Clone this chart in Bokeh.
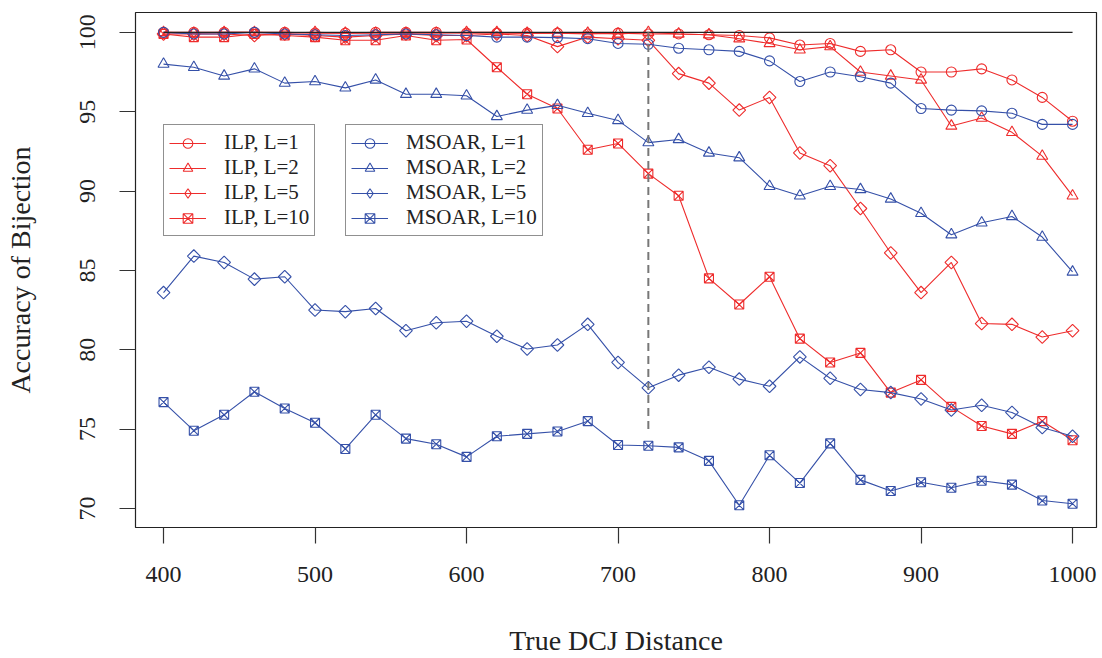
from bokeh.plotting import figure
from bokeh.models import Range1d, Legend, LegendItem, FixedTicker
from bokeh.embed import file_html
from bokeh.resources import INLINE
import numpy as np

# ---------------- data ----------------
distance = list(range(400, 1001, 20))

ilp_l1 = [100.0, 100.0, 100.0, 100.0, 100.0, 99.95, 99.95, 100.0, 100.0, 100.0, 99.95,
          99.95, 99.95, 99.95, 99.9, 99.95, 99.9, 99.9, 99.85, 99.8, 99.65, 99.2, 99.3,
          98.8, 98.9, 97.5, 97.5, 97.7, 97.0, 95.9, 94.4]
ilp_l2 = [100.0, 99.95, 100.0, 100.0, 99.95, 100.0, 99.95, 99.95, 99.95, 99.95, 100.0,
          100.0, 99.95, 99.95, 99.95, 99.9, 100.0, 99.9, 99.85, 99.6, 99.3, 98.9, 99.1,
          97.5, 97.25, 97.0, 94.1, 94.6, 93.7, 92.2, 89.7]
ilp_l5 = [99.9, 99.9, 99.9, 99.8, 99.9, 99.8, 99.7, 99.8, 99.9, 99.8, 99.8,
          99.9, 99.8, 99.1, 99.7, 99.6, 99.5, 97.4, 96.8, 95.1, 95.9, 92.4, 91.6,
          88.9, 86.1, 83.6, 85.5, 81.65, 81.6, 80.8, 81.2]
ilp_l10 = [99.9, 99.7, 99.7, 99.9, 99.8, 99.7, 99.5, 99.5, 99.8, 99.5, 99.55,
           97.8, 96.1, 95.2, 92.6, 93.0, 91.1, 89.7, 84.5, 82.85, 84.6, 80.7, 79.2,
           79.8, 77.3, 78.1, 76.4, 75.2, 74.7, 75.5, 74.3]

msoar_l1 = [100.0, 99.9, 99.9, 100.0, 99.9, 99.85, 99.8, 99.85, 99.9, 99.85, 99.8,
            99.7, 99.7, 99.67, 99.6, 99.3, 99.25, 99.0, 98.9, 98.8, 98.2, 96.9, 97.5,
            97.2, 96.8, 95.2, 95.1, 95.05, 94.9, 94.2, 94.2]
msoar_l2 = [98.0, 97.8, 97.25, 97.7, 96.8, 96.9, 96.5, 97.0, 96.1, 96.1, 96.0,
            94.7, 95.1, 95.4, 94.9, 94.45, 93.05, 93.25, 92.4, 92.1, 90.3, 89.7, 90.3,
            90.1, 89.5, 88.6, 87.25, 88.0, 88.4, 87.1, 84.9]
msoar_l5 = [83.6, 85.9, 85.5, 84.45, 84.6, 82.5, 82.4, 82.6, 81.2, 81.7, 81.8,
            80.85, 80.05, 80.3, 81.6, 79.2, 77.6, 78.4, 78.9, 78.15, 77.7, 79.55, 78.2,
            77.5, 77.3, 76.9, 76.2, 76.5, 76.05, 75.1, 74.55]
msoar_l10 = [76.7, 74.9, 75.9, 77.35, 76.3, 75.4, 73.75, 75.9, 74.4, 74.05, 73.25,
             74.55, 74.7, 74.85, 75.5, 74.0, 73.95, 73.85, 73.0, 70.2, 73.35, 71.6, 74.1,
             71.8, 71.1, 71.65, 71.3, 71.75, 71.5, 70.5, 70.3]

x_ticks = [400, 500, 600, 700, 800, 900, 1000]
y_ticks = [70, 75, 80, 85, 90, 95, 100]
reference_level = [100]
cutoff_distance = [720]
cutoff_span = [75, 100]

ilp_labels = ["ILP, L=1", "ILP, L=2", "ILP, L=5", "ILP, L=10"]
msoar_labels = ["MSOAR, L=1", "MSOAR, L=2", "MSOAR, L=5", "MSOAR, L=10"]

# ---------------- styling ----------------
RED = "#EE2C2C"
BLUE = "#3550A8"
FONT = "Liberation Serif"
LW = 1.1

p = figure(width=1102, height=658, output_backend="svg", toolbar_location=None,
           x_range=Range1d(381.5, 1015.8), y_range=Range1d(68.8, 101.25),
           min_border_left=135, min_border_right=6, min_border_top=12,
           min_border_bottom=127)
p.background_fill_color = "white"
p.border_fill_color = "white"
p.outline_line_color = "#222222"
p.outline_line_width = 1.2
p.xgrid.visible = False
p.ygrid.visible = False

for ax in (p.xaxis[0], p.yaxis[0]):
    ax.axis_line_color = None
    ax.major_tick_in = 0
    ax.major_tick_out = 16
    ax.minor_tick_line_color = None
    ax.major_tick_line_color = "#333333"
    ax.major_tick_line_width = 1.2
    ax.major_label_text_font = FONT
    ax.major_label_text_font_size = "24px"
    ax.major_label_text_color = "#222222"
    ax.axis_label_text_font = FONT
    ax.axis_label_text_font_size = "28px"
    ax.axis_label_text_font_style = "normal"
    ax.axis_label_text_color = "#222222"

p.xaxis.ticker = FixedTicker(ticks=x_ticks)
p.yaxis.ticker = FixedTicker(ticks=y_ticks)
p.xaxis.major_label_standoff = 23
p.yaxis.major_label_standoff = 24
p.yaxis.major_label_orientation = "vertical"
p.xaxis.axis_label = "True DCJ Distance"
p.yaxis.axis_label = "Accuracy of Bijection"
p.xaxis.axis_label_standoff = 40
p.yaxis.axis_label_standoff = 42


def series(ys, color, marker, size, angle=0.0, legend_marker=None):
    ln = p.line(distance, ys, line_color=color, line_width=LW)
    sc = p.scatter(distance, ys, marker=marker, size=size, angle=angle,
                   line_color=color, fill_color=None, line_width=LW)
    if legend_marker is None:
        return [ln, sc]
    # legend-only key (legend keys ignore marker rotation)
    key = p.scatter([np.nan], [np.nan], marker=legend_marker, size=size,
                    line_color=color, fill_color=None, line_width=LW)
    return [ln, key]


ilp_r = [
    series(ilp_l1, RED, "circle", 10),
    series(ilp_l2, RED, "triangle", 11),
    series(ilp_l5, RED, "square", 9, np.pi / 4, "diamond"),
    series(ilp_l10, RED, "square_x", 9),
]
msoar_r = [
    series(msoar_l1, BLUE, "circle", 10),
    series(msoar_l2, BLUE, "triangle", 11),
    series(msoar_l5, BLUE, "square", 9, np.pi / 4, "diamond"),
    series(msoar_l10, BLUE, "square_x", 9),
]

# reference line at 100 and dashed cut-off line
p.segment(x0=[distance[0]], x1=[distance[-1]], y0=reference_level, y1=reference_level,
          line_color="#222222", line_width=1.2)
p.segment(x0=cutoff_distance, x1=cutoff_distance, y0=[cutoff_span[0]], y1=[cutoff_span[1]],
          line_color="#777777", line_width=2, line_dash="8 5")


def make_legend(labels, renderers, loc):
    lg = Legend(items=[LegendItem(label=l, renderers=r) for l, r in zip(labels, renderers)],
                location=loc, orientation="vertical",
                border_line_color="#222222", border_line_width=1.2,
                background_fill_color="white", background_fill_alpha=1.0,
                label_text_font=FONT, label_text_font_size="21px",
                label_text_color="#222222",
                glyph_width=37, glyph_height=24, label_height=24,
                spacing=0, padding=5, margin=0, label_standoff=18)
    p.add_layout(lg)
    return lg


make_legend(ilp_labels, ilp_r, (28, 291))
make_legend(msoar_labels, msoar_r, (210, 291))

open("out.html", "w").write(file_html(p, INLINE))
